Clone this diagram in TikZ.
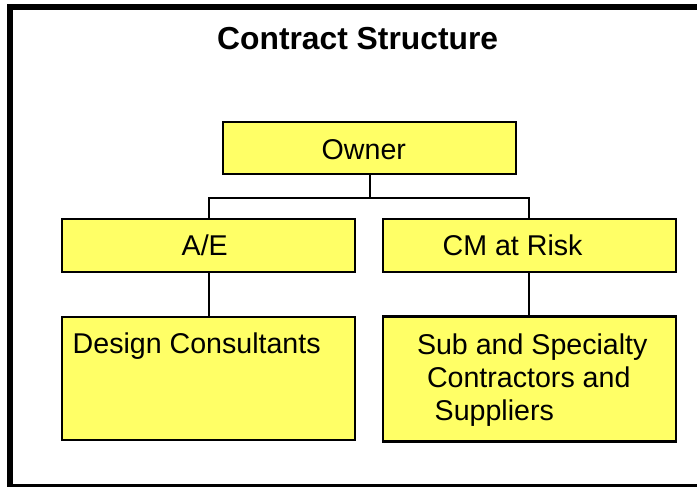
\documentclass[tikz,border=0pt]{standalone}
\usepackage{fontspec}
\setmainfont{Liberation Sans}
\definecolor{boxyellow}{HTML}{FFFF66}
\begin{document}
\begin{tikzpicture}[x=1pt,y=-1pt,
  orgbox/.style={draw=black,line width=2pt,fill=boxyellow,inner sep=0pt,minimum width=293pt},
  lbl/.style={inner sep=0pt,anchor=base west,font=\fontsize{28.6}{33.5}\selectfont},
  conn/.style={draw=black,line width=2pt}]
\useasboundingbox (0,0) rectangle (697,487);
\draw[line width=6pt] (10,7) rectangle (710,487);
\node[font=\fontsize{31.8}{36}\selectfont\bfseries,inner sep=0pt,anchor=base west] (title) at (217,50) {Contract Structure};
\node[orgbox,minimum height=52pt] (owner) at (369.5,148) {};
\node[orgbox,minimum height=52.5pt] (ae) at (208.5,245.3) {};
\node[orgbox,minimum height=52.5pt] (cm) at (529.3,245.3) {};
\node[orgbox,minimum height=123pt] (design) at (208.5,378.5) {};
\node[orgbox,minimum height=125pt,line width=2.5pt] (sub) at (529.3,379) {};
\node[lbl] (ownertxt) at (321.5,159) {Owner};
\node[lbl] (aetxt) at (181.5,255.5) {A/E};
\node[lbl] (cmtxt) at (442.5,255.3) {CM at Risk};
\node[lbl] (designtxt) at (72.5,353.5) {Design Consultants};
\node[lbl] (subtxta) at (416.8,354) {Sub and Specialty};
\node[lbl] (subtxtb) at (426.8,387.3) {Contractors and};
\node[lbl] (subtxtc) at (434.5,420.7) {Suppliers};
\draw[conn] (owner.south) -- ++(0,23) coordinate (bar) -| (ae.north);
\draw[conn] (bar) -| (cm.north);
\draw[conn] (ae.south) -- (design.north);
\draw[conn] (cm.south) -- (sub.north);
\end{tikzpicture}
\end{document}
